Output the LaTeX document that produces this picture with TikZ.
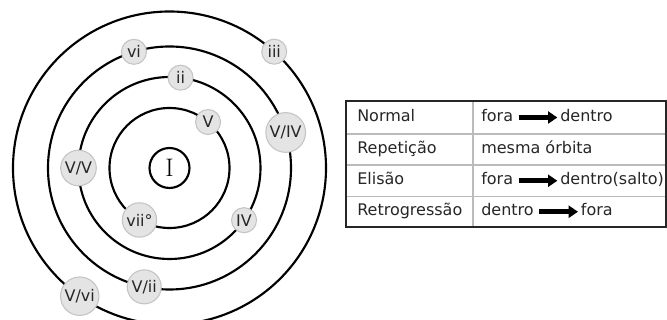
\documentclass[tikz,border=0pt]{standalone}
\usepackage{fontspec}
\setsansfont{DejaVu Sans}
\usepackage{tikz}
\usetikzlibrary{arrows.meta}
\usetikzlibrary{positioning}
\definecolor{chordfill}{HTML}{E4E4E4}
\definecolor{chordline}{HTML}{C4C4C4}
\definecolor{gridgray}{HTML}{BBBBBB}
\definecolor{inktext}{HTML}{262626}

\begin{document}
\begin{tikzpicture}[
		x=0.75pt, y=0.75pt,
		orbit/.style={line width=1.6pt, color=black},
		chord/.style={circle, draw=chordline, fill=chordfill, line width=0.8pt,
			inner sep=1.5pt, minimum size=18.75pt, text=inktext,
			font=\sffamily\fontsize{12}{13}\selectfont},
		cell/.style={anchor=west, inner sep=0pt, text=inktext,
			text height=0.75em, text depth=0.22em,
			font=\sffamily\fontsize{12}{13}\selectfont},
		flow/.style={line width=3.5pt, -{Triangle[length=7pt,width=9pt]},
			shorten <=4pt, shorten >=2pt},
		node distance=35pt
	]
	\useasboundingbox (-169.5,-152) rectangle (497.5,168);
	
	% orbits
	\foreach \r in {60,91,121.5,156.5}{
		\draw[orbit] (0,0) circle (\r);
	}
	
	\node[draw, circle, line width=1.6pt, minimum size=30pt, inner sep=0pt,
		font=\fontsize{19}{20}\selectfont] (tonic) at (0,0) {I};
	
	% chords on the orbits
	\node[chord] (V) at (50:60) {V};
	\node[chord] (vii) at (240:60) {vii°};
	\node[chord] (ii) at (83:91) {ii};
	\node[chord] (VV) at (180:91) {V/V};
	\node[chord] (IV) at (325:91) {IV};
	\node[chord] (vi) at (107:121.5) {vi};
	\node[chord] (VIV) at (17:121.5) {V/IV};
	\node[chord] (Vii) at (258:121.5) {V/ii};
	\node[chord] (iii) at (48:156.5) {iii};
	\node[chord] (Vvi) at (235:156.5) {V/vi};
	
	% table
	\foreach \y in {34,3,-28.5}{
		\draw[gridgray, line width=0.8pt] (176.5,\y) -- (496.5,\y);
	}
	\draw[gridgray, line width=0.8pt] (303.5,67) -- (303.5,-59);
	\draw[line width=2pt, black!85] (176.5,-59) rectangle (496.5,67);
	
	\node[cell] (normal) at (187.5,50.5) {Normal};
	\node[cell] (repet) at (187.5,18.5) {Repetição};
	\node[cell] (elisao) at (187.5,-12.75) {Elisão};
	\node[cell] (retro) at (187.5,-43.75) {Retrogressão};
	
	\node[cell] (fora1) at (311.5,50.5) {fora};
	\node[cell, right=of fora1] (dentro1) {dentro};
	\draw[flow] (fora1) -- (dentro1);
	
	\node[cell] (mesma) at (311.5,18.5) {mesma órbita};
	
	\node[cell] (fora3) at (311.5,-12.75) {fora};
	\node[cell, right=of fora3] (salto) {dentro(salto)};
	\draw[flow] (fora3) -- (salto);
	
	\node[cell] (dentro4) at (311.5,-43.75) {dentro};
	\node[cell, right=of dentro4] (fora4) {fora};
	\draw[flow] (dentro4) -- (fora4);
\end{tikzpicture}
\end{document}
